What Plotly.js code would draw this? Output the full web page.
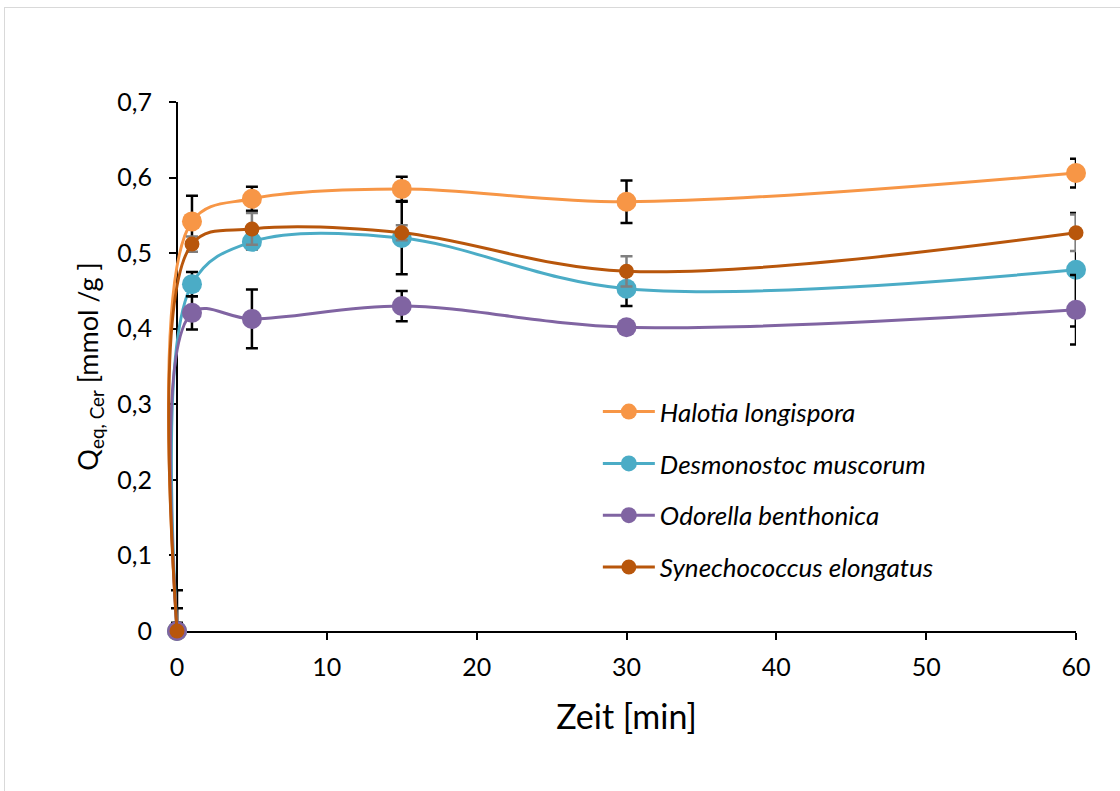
<!DOCTYPE html>
<html>
<head>
<meta charset="utf-8">
<script src="https://cdn.plot.ly/plotly-3.0.1.min.js"></script>
<style>
  html, body { margin: 0; padding: 0; background: #ffffff; }
  #wrap { position: relative; width: 1120px; height: 791px; overflow: hidden; }
  #chart { position: absolute; left: 0; top: 0; width: 1120px; height: 791px; }
  #frame { position: absolute; left: 4px; top: 7px; width: 1200px; height: 900px;
           border: 1.5px solid #d9d9d9; pointer-events: none; }
</style>
</head>
<body>
<div id="wrap">
  <div id="chart"></div>
  <div id="frame"></div>
</div>
<script>
// Sorption time course (minutes) for four cyanobacteria strains
const zeit = [0, 1, 5, 15, 30, 60];

const halotia       = [0, 0.542, 0.572, 0.585, 0.568, 0.606];
const halotiaErr    = [0.054, 0.034, 0.016, 0.016, 0.028, 0.019];

const desmonostoc    = [0, 0.459, 0.515, 0.520, 0.453, 0.478];
const desmonostocErr = [0.030, 0.016, 0.010, 0.048, 0.023, 0.075];

const odorella      = [0, 0.421, 0.413, 0.430, 0.402, 0.425];
const odorellaErr   = [0.011, 0.022, 0.039, 0.020, 0.005, 0.046];

const synecho       = [0, 0.512, 0.532, 0.527, 0.476, 0.527];
const synechoErr    = [0, 0.010, 0.021, 0.010, 0.020, 0.024];

const names = ['Halotia longispora', 'Desmonostoc muscorum', 'Odorella benthonica', 'Synechococcus elongatus'];

const xTicks = [0, 10, 20, 30, 40, 50, 60];
const yTicks = [0, 0.1, 0.2, 0.3, 0.4, 0.5, 0.6, 0.7];
const yTickText = ['0', '0,1', '0,2', '0,3', '0,4', '0,5', '0,6', '0,7'];

// Plot geometry: the curves live on a slightly wider x-axis so that the
// smoothed rise from t = 0 is not clipped at the left edge.
const W = 1120, H = 791;
const mL = 160, mR = 44, mT = 102, mB = 160;
const plotW = W - mL - mR;
const lead = 17;                                   // px between clip edge and t = 0
const xMax = 60;
const xMin = -xMax * lead / (plotW - lead);
const axisPos = lead / plotW;

function series(name, y, err, color, msize, errColor) {
  return {
    x: zeit, y: y, name: name, type: 'scatter', mode: 'lines+markers',
    xaxis: 'x2', yaxis: 'y',
    legendgroup: name,
    cliponaxis: false,
    line: { color: color, width: 3, shape: 'spline', smoothing: 1 },
    marker: { color: color, size: msize },
    error_y: { type: 'data', array: err, visible: true, color: errColor, thickness: 2.5, width: 6 }
  };
}

const traces = [
  // empty trace that carries the visible time axis
  { x: [], y: [], type: 'scatter', mode: 'markers', xaxis: 'x', yaxis: 'y',
    showlegend: false, hoverinfo: 'skip' },
  series(names[0], halotia, halotiaErr, '#F79646', 20, '#000000'),
  series(names[1], desmonostoc, desmonostocErr, '#4BACC6', 20, '#000000'),
  series(names[2], odorella, odorellaErr, '#8064A2', 20, '#000000'),
  series(names[3], synecho, synechoErr, '#B8560B', 15, '#7f7f7f')
];

const fontFam = 'Lato, "Open Sans", sans-serif';

const layout = {
  width: W, height: H,
  margin: { l: mL, r: mR, t: mT, b: mB },
  paper_bgcolor: 'rgba(0,0,0,0)',
  plot_bgcolor: 'rgba(0,0,0,0)',
  font: { family: fontFam, color: '#000000', size: 25 },
  showlegend: true,
  legend: {
    x: 0.478, y: 0.459, xanchor: 'left', yanchor: 'top',
    bgcolor: 'rgba(0,0,0,0)',
    font: { family: fontFam, size: 26, style: 'italic', color: '#000000' },
    tracegroupgap: 15,
    itemwidth: 52
  },
  // visible axis: t = 0 … 60
  xaxis: {
    domain: [axisPos, 1], anchor: 'y',
    range: [0, xMax], tickvals: xTicks, ticktext: xTicks.map(String),
    showgrid: false, zeroline: false,
    showline: true, linecolor: '#000000', linewidth: 2,
    ticks: 'outside', ticklen: 7, tickwidth: 2, tickcolor: '#000000',
    tickfont: { size: 25 }, ticklabelstandoff: 6,
    title: { text: 'Zeit [min]', font: { size: 34 }, standoff: 25 }
  },
  // data axis, same scale, reaching a little past t = 0
  xaxis2: {
    domain: [0, 1], anchor: 'y',
    range: [xMin, xMax], visible: false,
    showgrid: false, zeroline: false
  },
  yaxis: {
    anchor: 'free', position: axisPos,
    range: [0, 0.7], tickvals: yTicks, ticktext: yTickText,
    showgrid: false, zeroline: false,
    showline: true, linecolor: '#000000', linewidth: 2,
    ticks: 'outside', ticklen: 7, tickwidth: 2, tickcolor: '#000000',
    tickfont: { size: 25 }, ticklabelstandoff: 12,
    title: { text: 'Q<sub>eq, Cer</sub> [mmol /g ]', font: { size: 27 }, standoff: 10 }
  }
};

Plotly.newPlot('chart', traces, layout, { staticPlot: true, displayModeBar: false });
</script>
</body>
</html>
